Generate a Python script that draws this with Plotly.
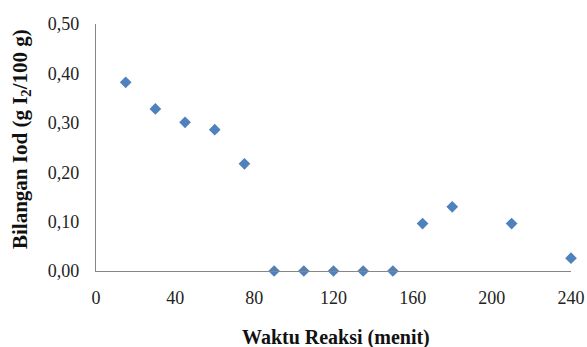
import plotly.graph_objects as go

waktu = [15, 30, 45, 60, 75, 90, 105, 120, 135, 150, 165, 180, 210, 240]
bilangan_iod = [0.382, 0.328, 0.301, 0.286, 0.217, 0.0, 0.0, 0.0, 0.0, 0.0, 0.096, 0.130, 0.096, 0.026]

x_ticks = [0, 40, 80, 120, 160, 200, 240]
y_ticks = [0.0, 0.1, 0.2, 0.3, 0.4, 0.5]

font_family = "Liberation Serif"

fig = go.Figure()
fig.add_trace(go.Scatter(
    x=waktu, y=bilangan_iod, mode="markers",
    marker=dict(symbol="diamond", size=9, color="#4F81BD"),
    cliponaxis=False, showlegend=False,
))

L, R, T, B = 96, 16, 24, 76
fig.update_layout(
    width=587, height=347,
    margin=dict(l=L, r=R, t=T, b=B, autoexpand=False),
    plot_bgcolor="white", paper_bgcolor="white",
    separators=",.",
    font=dict(family=font_family, size=18, color="#222222"),
    annotations=[
        dict(text="<b>Waktu Reaksi (menit)</b>", xref="paper", yref="paper",
             x=(336 - L) / (587 - L - R), y=(-(337 - (347 - B)) / (347 - T - B)), xanchor="center", yanchor="middle",
             showarrow=False, font=dict(family=font_family, size=20, color="#111111")),
        dict(text="<b>Bilangan Iod (g I<sub>2</sub>/100 g)</b>", xref="paper", yref="paper",
             x=(21 - L) / (587 - L - R), y=(347 - B - 139) / (347 - T - B), xanchor="center", yanchor="middle",
             textangle=-90, showarrow=False,
             font=dict(family=font_family, size=21, color="#111111")),
    ],
)
fig.update_xaxes(
    range=[0, 240], tickvals=x_ticks, showgrid=False, zeroline=False,
    showline=True, linecolor="#868686", linewidth=1.2, ticks="",
    ticklabelstandoff=10, automargin=False,
    tickfont=dict(family=font_family, size=18, color="#222222"),
)
fig.update_yaxes(
    range=[0, 0.5], tickvals=y_ticks, tickformat=".2f", showgrid=False, zeroline=False,
    showline=True, linecolor="#868686", linewidth=1.2, ticks="",
    ticklabelstandoff=12, automargin=False,
    tickfont=dict(family=font_family, size=18, color="#222222"),
)

fig.write_html("out.html", config={"displayModeBar": False},
               post_script="document.body.style.margin='0';document.body.style.overflow='hidden';")
